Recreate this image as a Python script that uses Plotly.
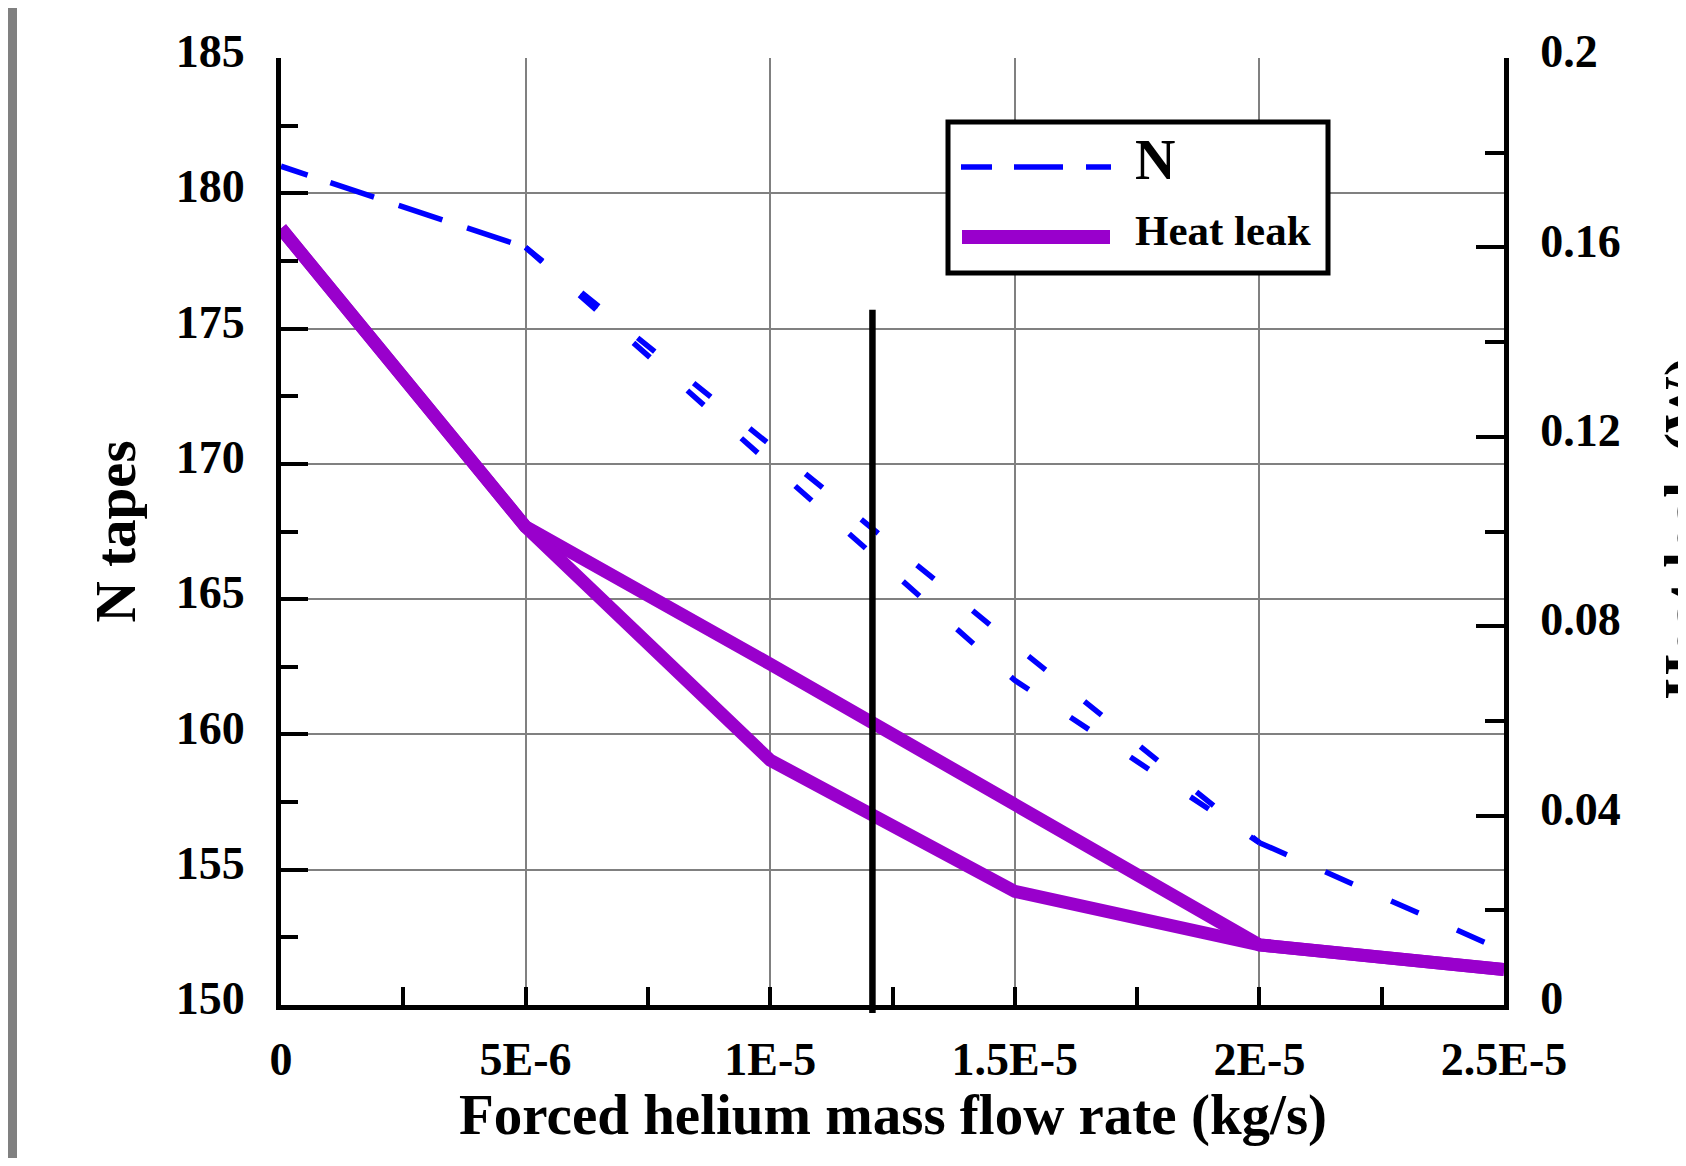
import plotly.graph_objects as go

# ---------------- data ----------------
flow = [0, 5e-6, 1e-5, 1.5e-5, 2e-5, 2.5e-5]
n_tapes_a = [181, 178, 170.7, 163.3, 156, 152]
n_tapes_b = [181, 178, 170, 162, 156, 152]
heat_leak_a = [0.164, 0.101, 0.072, 0.042, 0.0127, 0.0075]
heat_leak_b = [0.164, 0.101, 0.0517, 0.024, 0.0127, 0.0075]
marker_flow = 1.209e-5
marker_top_n = 175.7

x_tickvals = [0, 5e-6, 1e-5, 1.5e-5, 2e-5, 2.5e-5]
x_ticktext = ["0", "5E-6", "1E-5", "1.5E-5", "2E-5", "2.5E-5"]
y2_tickvals = [0, 0.04, 0.08, 0.12, 0.16, 0.2]
y2_ticktext = ["0", "0.04", "0.08", "0.12", "0.16", "0.2"]

# ---------------- layout geometry ----------------
OFF = 8  # page body margin
W, H = 1686 - OFF, 1166 - 2 * OFF
SL, SR, ST, SB = 281, 1504, 58, 1005      # plot area in screen pixels
L, R, T, B = SL - OFF, SR - OFF, ST - OFF, SB - OFF
PW, PH = SR - SL, SB - ST


def px(xs):
    return (xs - SL) / PW


def py(ys):
    return (SB - ys) / PH


FONT = "Liberation Serif"
BLUE = "#0000ff"
PURPLE = "#9900cc"
GRID = "#808080"

fig = go.Figure()

# N tapes (dashed blue): shared first segment, two diverging middle paths, shared last segment
fig.add_trace(go.Scatter(x=flow[0:2], y=n_tapes_a[0:2], mode="lines",
                         line=dict(color=BLUE, width=5.5,
                                   dash="28px,24px,46px,26px,46px,26px,46px,26px"),
                         showlegend=False, yaxis="y"))
fig.add_trace(go.Scatter(x=flow[1:5], y=n_tapes_a[1:5], mode="lines",
                         line=dict(color=BLUE, width=5.5, dash="22px,50px"),
                         showlegend=False, yaxis="y"))
fig.add_trace(go.Scatter(x=flow[1:5], y=n_tapes_b[1:5], mode="lines",
                         line=dict(color=BLUE, width=5.5, dash="22px,50px"),
                         showlegend=False, yaxis="y"))
fig.add_trace(go.Scatter(x=flow[4:6], y=n_tapes_a[4:6], mode="lines",
                         line=dict(color=BLUE, width=5.5, dash="30px,42px"),
                         showlegend=False, yaxis="y"))

# Heat leak (solid purple)
fig.add_trace(go.Scatter(x=flow, y=heat_leak_a, mode="lines",
                         line=dict(color=PURPLE, width=13),
                         showlegend=False, yaxis="y2"))
fig.add_trace(go.Scatter(x=flow, y=heat_leak_b, mode="lines",
                         line=dict(color=PURPLE, width=13),
                         showlegend=False, yaxis="y2"))

tickfont = dict(family=FONT, size=46, color="black", weight="bold")

fig.update_layout(
    width=W, height=H, autosize=False,
    margin=dict(l=L, r=W - R, t=T, b=H - B, pad=0),
    paper_bgcolor="white", plot_bgcolor="white",
    showlegend=False,
    xaxis=dict(
        range=[0, 2.5e-5], tickvals=x_tickvals, ticktext=x_ticktext,
        showline=True, linecolor="black", linewidth=5, mirror=False,
        ticks="inside", ticklen=18, tickwidth=4, tickcolor="black",
        showgrid=True, gridcolor=GRID, gridwidth=1.5, zeroline=False,
        minor=dict(ticks="inside", ticklen=18, tickwidth=4, tickcolor="black",
                   dtick=2.5e-6, showgrid=False),
        tickfont=tickfont, ticklabelstandoff=10,
    ),
    yaxis=dict(
        range=[150, 185], dtick=5, tick0=150,
        showline=True, linecolor="black", linewidth=5, mirror=False,
        ticks="inside", ticklen=27, tickwidth=4, tickcolor="black",
        showgrid=True, gridcolor=GRID, gridwidth=1.5, zeroline=False,
        minor=dict(ticks="inside", ticklen=17, tickwidth=4, tickcolor="black",
                   dtick=2.5, showgrid=False),
        tickfont=tickfont, ticklabelstandoff=22, ticklabelshift=-7,
    ),
    yaxis2=dict(
        range=[0, 0.2], tickvals=y2_tickvals, ticktext=y2_ticktext,
        overlaying="y", side="right",
        showline=True, linecolor="black", linewidth=5,
        ticks="inside", ticklen=28, tickwidth=4, tickcolor="black",
        showgrid=False, zeroline=False,
        minor=dict(ticks="inside", ticklen=19, tickwidth=4, tickcolor="black",
                   dtick=0.02, showgrid=False),
        tickfont=tickfont, ticklabelstandoff=22, ticklabelshift=-7,
    ),
)

# vertical marker line
fig.add_shape(type="line", xref="x", yref="paper",
              x0=marker_flow, x1=marker_flow,
              y0=-8 / PH, y1=(marker_top_n - 150) / 35,
              line=dict(color="black", width=6.5), layer="above")

# gray page bar at left
fig.add_shape(type="rect", xref="paper", yref="paper",
              x0=px(7), x1=px(17), y0=py(1166), y1=py(7),
              line=dict(width=0), fillcolor="#808080", layer="above")

# legend box
fig.add_shape(type="rect", xref="paper", yref="paper",
              x0=px(948), x1=px(1328), y0=py(273), y1=py(122),
              line=dict(color="black", width=5), fillcolor="white", layer="above")
fig.add_shape(type="line", xref="paper", yref="paper",
              x0=px(961), x1=px(1111), y0=py(167), y1=py(167),
              line=dict(color=BLUE, width=5.5, dash="31px,22px,49px,23px,25px"),
              layer="above")
fig.add_shape(type="line", xref="paper", yref="paper",
              x0=px(962), x1=px(1110), y0=py(237), y1=py(237),
              line=dict(color=PURPLE, width=14), layer="above")

fig.add_annotation(text="N", xref="paper", yref="paper", x=px(1133), y=py(160),
                   xanchor="left", yanchor="middle", showarrow=False,
                   font=dict(family=FONT, size=56, color="black", weight="bold"))
fig.add_annotation(text="Heat leak", xref="paper", yref="paper", x=px(1133), y=py(231),
                   xanchor="left", yanchor="middle", showarrow=False,
                   font=dict(family=FONT, size=43, color="black", weight="bold"))

# axis titles
titlefont = dict(family=FONT, size=57, color="black", weight="bold")
fig.add_annotation(text="Forced helium mass flow rate (kg/s)", xref="paper", yref="paper",
                   x=0.5, y=py(1115), xanchor="center", yanchor="middle",
                   showarrow=False, font=titlefont)
fig.add_annotation(text="N tapes", xref="paper", yref="paper", textangle=-90,
                   x=px(115), y=0.5, xanchor="center", yanchor="middle",
                   showarrow=False, font=titlefont)
fig.add_annotation(text="Heat leak (W)", xref="paper", yref="paper", textangle=-90,
                   x=px(1651), y=py(528), xanchor="left", yanchor="middle",
                   showarrow=False, font=titlefont)

fig.write_html("out.html")
